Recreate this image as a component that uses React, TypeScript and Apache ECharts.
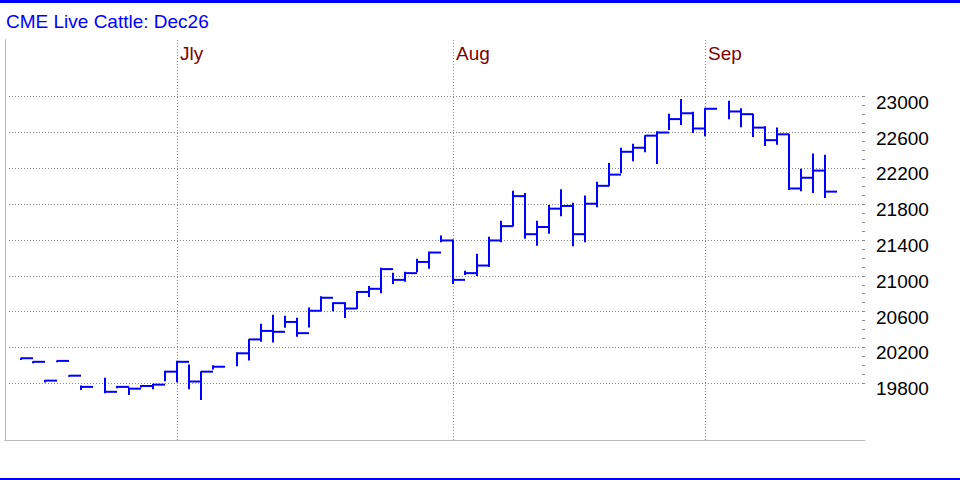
import React, { useEffect, useRef } from "react";
import * as echarts from "echarts";

// Trading days shown (holidays are left empty on the weekday axis)
const dates = [
  "2025-06-11", "2025-06-12", "2025-06-13", "2025-06-16", "2025-06-17", "2025-06-18", "2025-06-20",
  "2025-06-23", "2025-06-24", "2025-06-25", "2025-06-26", "2025-06-27", "2025-06-30",
  "2025-07-01", "2025-07-02", "2025-07-03", "2025-07-07", "2025-07-08", "2025-07-09", "2025-07-10",
  "2025-07-11", "2025-07-14", "2025-07-15", "2025-07-16", "2025-07-17", "2025-07-18", "2025-07-21",
  "2025-07-22", "2025-07-23", "2025-07-24", "2025-07-25", "2025-07-28", "2025-07-29", "2025-07-30",
  "2025-07-31",
  "2025-08-01", "2025-08-04", "2025-08-05", "2025-08-06", "2025-08-07", "2025-08-08", "2025-08-11",
  "2025-08-12", "2025-08-13", "2025-08-14", "2025-08-15", "2025-08-18", "2025-08-19", "2025-08-20",
  "2025-08-21", "2025-08-22", "2025-08-25", "2025-08-26", "2025-08-27", "2025-08-28", "2025-08-29",
  "2025-09-02", "2025-09-03", "2025-09-04", "2025-09-05", "2025-09-08", "2025-09-09", "2025-09-10",
  "2025-09-11", "2025-09-12",
];

const highs = [
  20080, 20040, 19830, 20050, 19885, 19770, 19855, 19765, 19745, 19775, 19790, 19935, 20045,
  20005, 19930, 19995, 20140, 20290, 20460, 20560, 20550, 20525, 20640, 20765, 20700, 20700,
  20825, 20880, 21085, 21030, 21040, 21185, 21265, 21445, 21400,
  21050, 21240, 21430, 21610, 21945, 21920, 21610, 21785, 21960, 21810, 21890, 22045, 22255,
  22425, 22470, 22565, 22610, 22805, 22970, 22825, 22870,
  22950, 22865, 22805, 22665, 22650, 22580, 22190, 22360, 22345,
];

const lows = [
  20065, 20030, 19815, 20040, 19880, 19730, 19695, 19750, 19675, 19760, 19740, 19828, 19818,
  19740, 19620, 19960, 19995, 20060, 20270, 20260, 20425, 20325, 20430, 20610, 20610, 20535,
  20635, 20770, 20810, 20915, 20940, 21045, 21085, 21380, 20915,
  21015, 21005, 21105, 21380, 21555, 21420, 21340, 21475, 21670, 21335, 21380, 21770, 22005,
  22150, 22285, 22385, 22255, 22635, 22690, 22600, 22565,
  22755, 22665, 22555, 22455, 22470, 21965, 21950, 21930, 21875,
];

const closes = [
  20080, 20040, 19830, 20050, 19885, 19760, 19705, 19760, 19740, 19770, 19785, 19930, 20040,
  19820, 19930, 19985, 20135, 20290, 20385, 20375, 20485, 20360, 20610, 20755, 20695, 20635,
  20820, 20855, 21075, 20955, 21030, 21155, 21260, 21395, 20955,
  21030, 21115, 21395, 21555, 21890, 21465, 21545, 21750, 21780, 21465, 21805, 22005, 22130,
  22385, 22430, 22565, 22600, 22750, 22815, 22645, 22865,
  22835, 22805, 22655, 22515, 22580, 21975, 22095, 22175, 21940,
];

const axisStart = "2025-06-10";
const axisEnd = "2025-09-17";
const monthNames = ["Jan", "Feb", "Mar", "Apr", "May", "Jun", "Jly", "Aug", "Sep", "Oct", "Nov", "Dec"];
const priceMin = 19800;
const priceMax = 23000;
const priceStep = 400;
const title = "CME Live Cattle: Dec26";

function weekdays(start: string, end: string): string[] {
  const out: string[] = [];
  const d = new Date(start + "T00:00:00Z");
  const e = new Date(end + "T00:00:00Z");
  while (d <= e) {
    const wd = d.getUTCDay();
    if (wd !== 0 && wd !== 6) out.push(d.toISOString().slice(0, 10));
    d.setUTCDate(d.getUTCDate() + 1);
  }
  return out;
}

const FONT = "'Liberation Sans', Arial, Helvetica, sans-serif";

export default function App() {
  const ref = useRef<HTMLDivElement>(null);

  useEffect(() => {
    if (!ref.current) return;
    const chart = echarts.init(ref.current, null, { renderer: "svg" });

    const categories = weekdays(axisStart, axisEnd);
    const monthOf = (s: string) => parseInt(s.slice(5, 7), 10);
    // month marker sits on the last weekday before a new month begins
    const markers = new Map<string, string>();
    for (let i = 0; i + 1 < categories.length; i++) {
      const m1 = monthOf(categories[i]);
      const m2 = monthOf(categories[i + 1]);
      if (m1 !== m2) markers.set(categories[i], monthNames[m2 - 1]);
    }

    const data = dates.map((d, i) => [d, highs[i], lows[i], closes[i]]);

    const blue = "#0000ff";

    const option: any = {
      animation: false,
      backgroundColor: "#ffffff",
      title: {
        text: title,
        left: 6,
        top: 12,
        padding: 0,
        textStyle: { color: blue, fontSize: 19, fontWeight: "normal", fontFamily: FONT },
      },
      graphic: [
        { type: "rect", shape: { x: 0, y: 0, width: 960, height: 3 }, style: { fill: blue }, silent: true },
        { type: "rect", shape: { x: 0, y: 478, width: 960, height: 2 }, style: { fill: blue }, silent: true },
      ],
      grid: [
        { left: 5, right: 95, top: 40, bottom: 40 },
        { left: 9, right: 99, top: 40, bottom: 40 },
        { left: 9, right: 99, top: 96.7, bottom: 96.7 },
      ],
      xAxis: [
        {
          gridIndex: 0, type: "value", position: "top", min: 0, max: 1,
          axisLine: { show: true, lineStyle: { color: "#aaaaaa", type: [1, 2], width: 1 } },
          axisTick: { show: false }, axisLabel: { show: false }, splitLine: { show: false },
        },
        {
          gridIndex: 0, type: "value", position: "bottom", min: 0, max: 1,
          axisLine: { show: true, lineStyle: { color: "#bbbbbb", width: 1 } },
          axisTick: { show: false }, axisLabel: { show: false }, splitLine: { show: false },
        },
        {
          gridIndex: 1, type: "category", data: categories, boundaryGap: false, position: "top",
          axisLine: { show: false }, axisTick: { show: false },
          axisLabel: {
            inside: true,
            interval: (_i: number, v: string) => markers.has(v),
            formatter: (v: string) => markers.get(v) || "",
            color: "#800000",
            fontSize: 19,
            fontFamily: FONT,
            align: "left",
            margin: 4,
            padding: [0, 0, 0, 3],
          },
          splitLine: {
            show: true,
            interval: (_i: number, v: string) => markers.has(v),
            lineStyle: { color: "#888888", type: [1, 2], width: 1 },
          },
        },
        {
          gridIndex: 2, type: "category", data: categories, boundaryGap: false, show: false,
        },
      ],
      yAxis: [
        {
          gridIndex: 0, type: "value", position: "left", min: 0, max: 1,
          axisLine: { show: true, lineStyle: { color: "#aaaaaa", type: [1, 2], width: 1 } },
          axisTick: { show: false }, axisLabel: { show: false }, splitLine: { show: false },
        },
        {
          gridIndex: 0, type: "value", position: "right", min: 0, max: 1,
          axisLine: { show: true, lineStyle: { color: "#bbbbbb", width: 1 } },
          axisTick: { show: false }, axisLabel: { show: false }, splitLine: { show: false },
        },
        { gridIndex: 1, type: "value", show: false, min: 0, max: 1 },
        {
          gridIndex: 2, type: "value", position: "right", offset: 4,
          min: priceMin, max: priceMax, interval: priceStep,
          axisLine: { show: false },
          axisTick: { show: true, inside: true, length: 3, lineStyle: { color: "#888888" } },
          minorTick: { show: true, splitNumber: 4, length: 3, lineStyle: { color: "#888888" } },
          splitLine: { show: true, lineStyle: { color: "#888888", type: [1, 2], width: 1 } },
          axisLabel: {
            color: "#000000", fontSize: 19, fontFamily: FONT, margin: 11,
            verticalAlign: "top", lineHeight: 11,
            formatter: (v: number) => String(v),
          },
        },
      ],
      series: [
        {
          type: "custom",
          xAxisIndex: 3,
          yAxisIndex: 3,
          clip: false,
          encode: { x: 0, y: [1, 2, 3] },
          data,
          renderItem: (params: any, api: any) => {
            const x = api.value(0);
            const hi = api.coord([x, api.value(1)]);
            const lo = api.coord([x, api.value(2)]);
            const cl = api.coord([x, api.value(3)]);
            const w = api.size([1, 0])[0];
            const style = { stroke: blue, lineWidth: 2, fill: null };
            return {
              type: "group",
              children: [
                { type: "line", shape: { x1: hi[0], y1: hi[1] - 0.5, x2: lo[0], y2: lo[1] + 0.5 }, style },
                { type: "line", shape: { x1: cl[0], y1: cl[1], x2: cl[0] + w, y2: cl[1] }, style },
              ],
            };
          },
        },
      ],
    };

    chart.setOption(option);
    return () => chart.dispose();
  }, []);

  return (
    <div
      ref={ref}
      style={{ position: "fixed", left: 0, top: 0, width: 960, height: 480, background: "#fff" }}
    />
  );
}
